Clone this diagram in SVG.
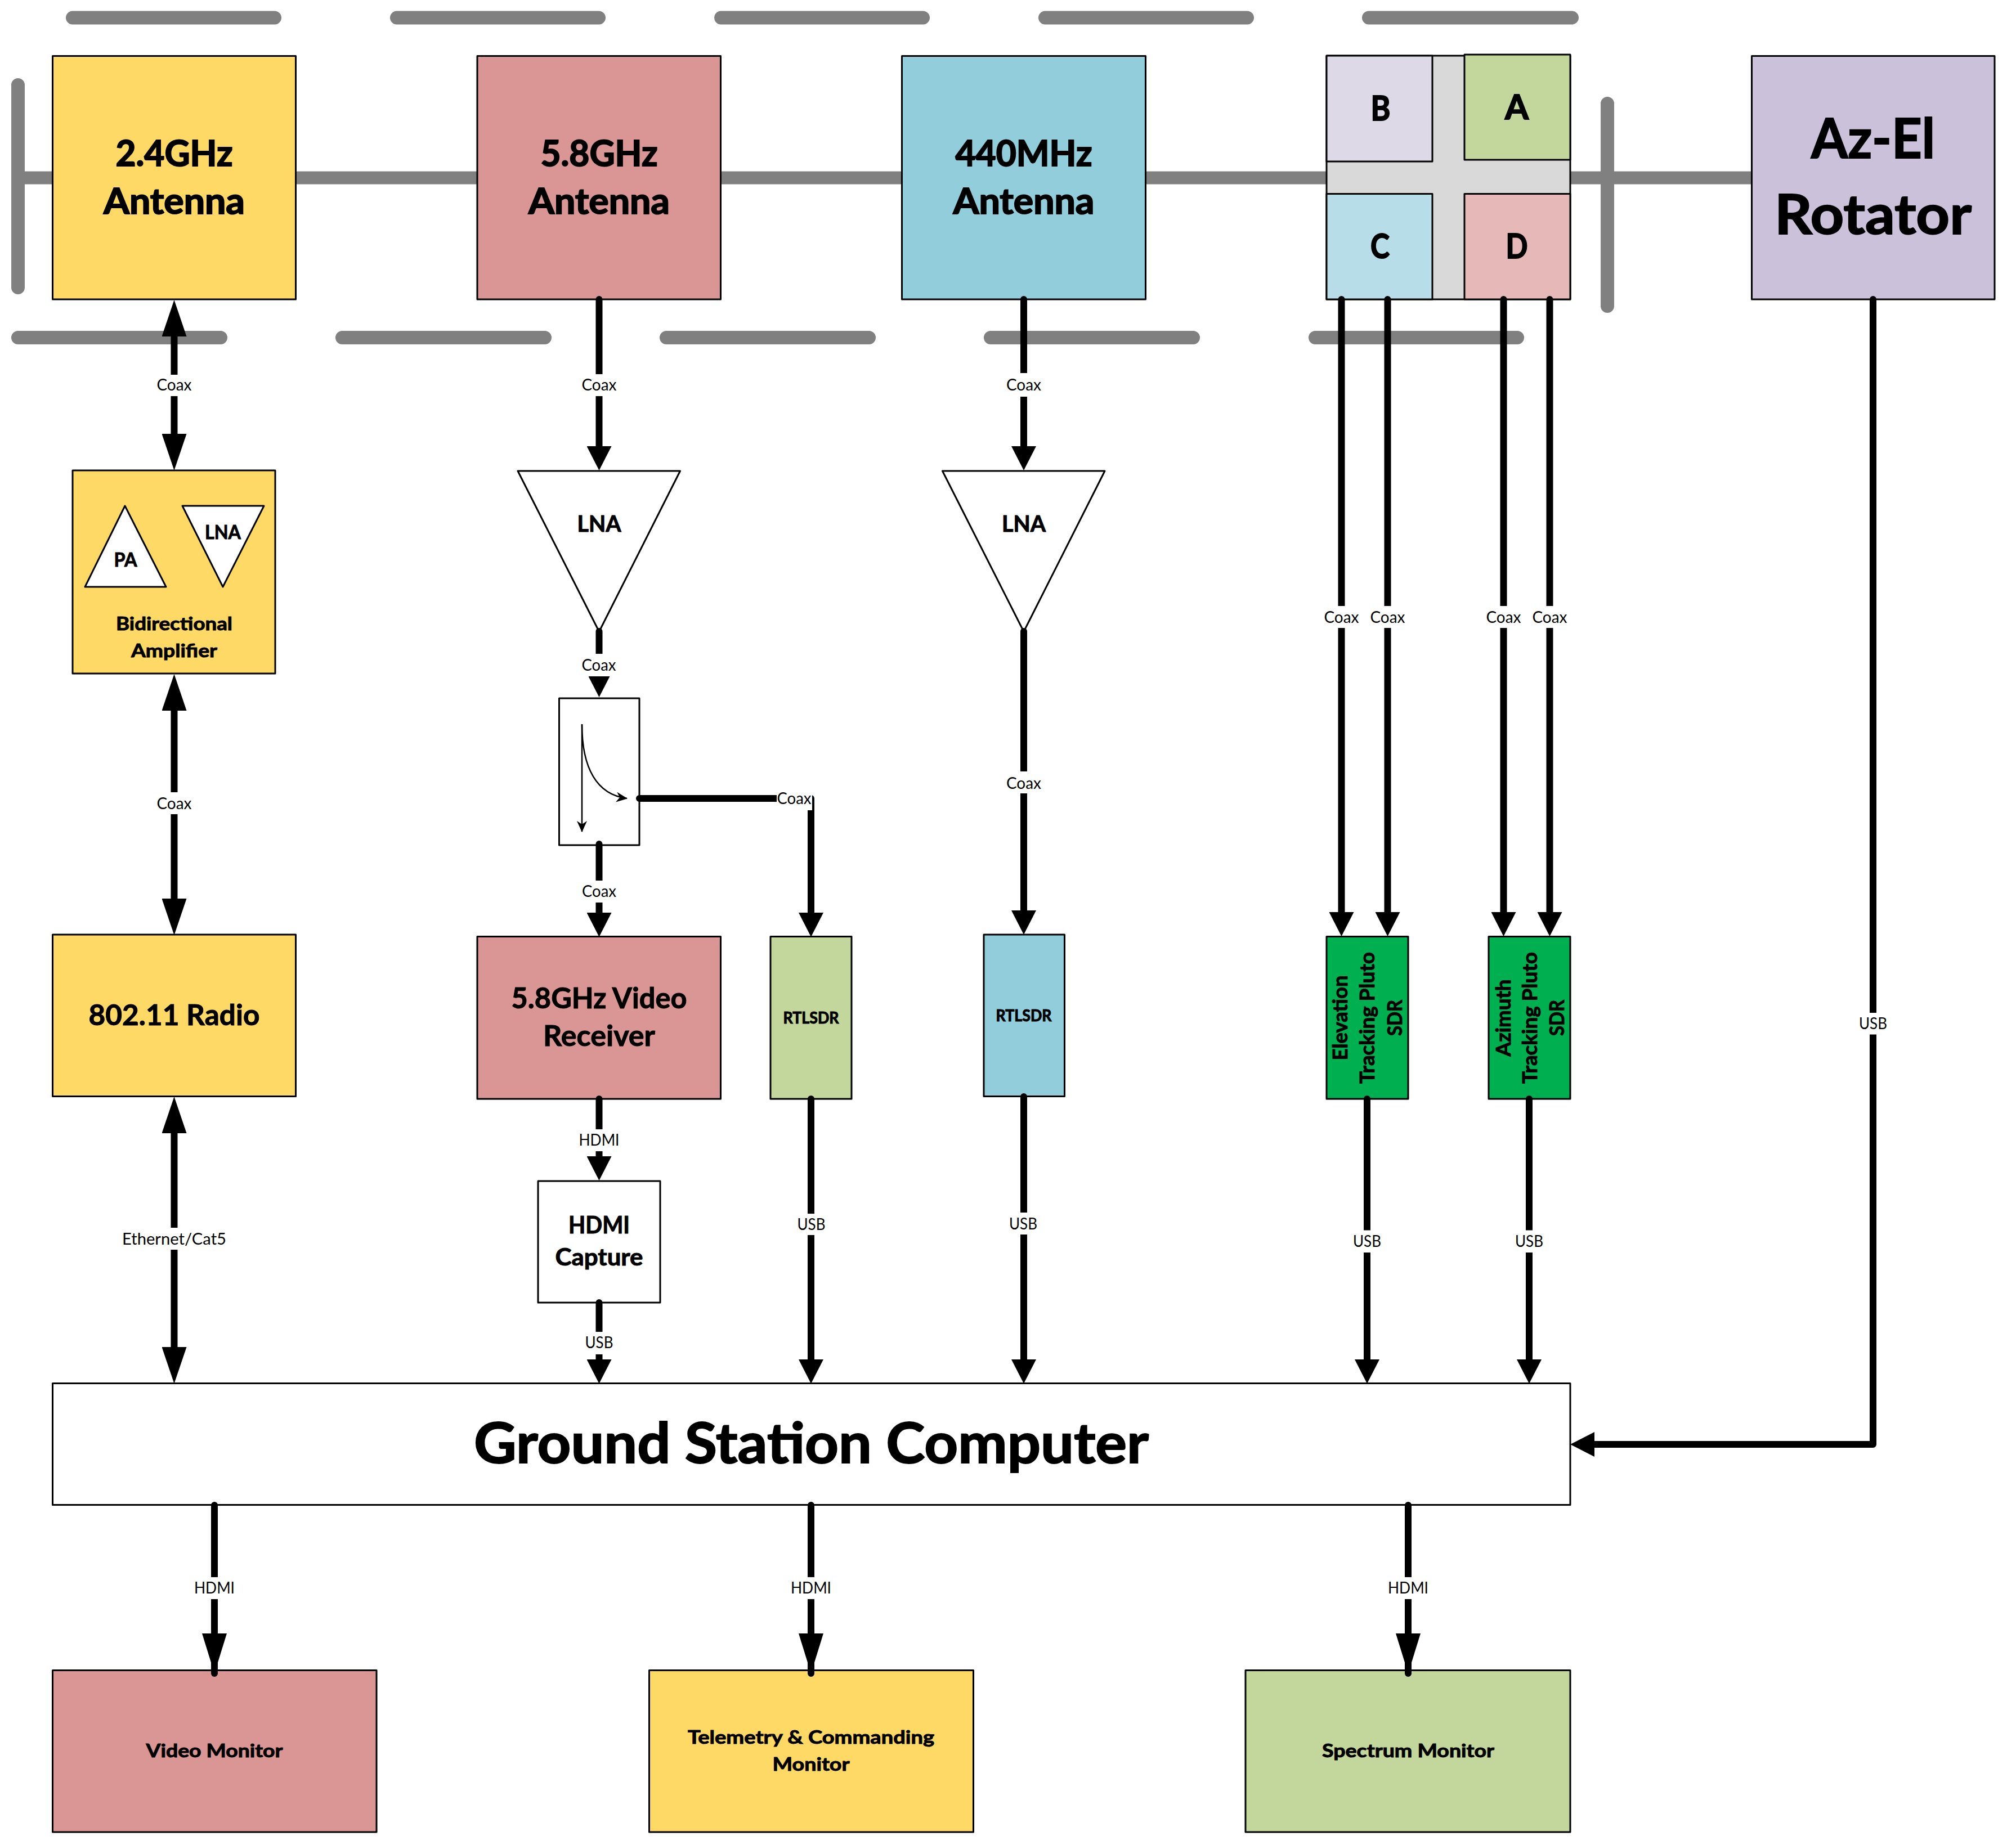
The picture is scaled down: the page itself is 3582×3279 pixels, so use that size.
<svg xmlns="http://www.w3.org/2000/svg" width="3582" height="3279" viewBox="0 0 3582 3279">
<style>
text{font-family:Lato,"Liberation Sans",sans-serif;fill:#000;text-anchor:middle}
.b{font-weight:700;stroke:#000;stroke-width:1}
.h{stroke-width:2}
.box{stroke:#000;stroke-width:3;stroke-linejoin:round}
.tri{fill:#fff;stroke:#000;stroke-width:3;stroke-linejoin:round}
.bar{fill:none;stroke:#808080;stroke-width:24;stroke-linecap:round}
.rail{fill:none;stroke:#808080;stroke-width:23}
.c{fill:none;stroke:#000;stroke-width:12;stroke-linecap:round;stroke-linejoin:round}
.a{marker-end:url(#arrow)}
.s{marker-end:url(#arrowSmall)}
.t{marker-end:url(#arrowThru)}
.d{marker-start:url(#arrowLong);marker-end:url(#arrowLong)}
.thin{fill:none;stroke:#000;stroke-width:2.5;marker-end:url(#stealth)}
.lb{fill:#fff;stroke:none}
.l{font-size:28px}
.yellow{fill:#FFD966}.rose{fill:#D99694}.blue{fill:#92CDDC}.lime{fill:#C3D69B}.purple{fill:#CCC1DA}.green{fill:#00B050}.white{fill:#fff}
</style>
<defs>
<marker id="arrow" markerUnits="userSpaceOnUse" markerWidth="44" markerHeight="44" viewBox="0 0 43 44" refX="0" refY="22" orient="auto"><path d="M0,0L43,22L0,44Z" fill="#000"/></marker>
<marker id="arrowSmall" markerUnits="userSpaceOnUse" markerWidth="37" markerHeight="38" viewBox="0 0 37 38" refX="0" refY="19" orient="auto"><path d="M0,0L37,19L0,38Z" fill="#000"/></marker>
<marker id="arrowLong" markerUnits="userSpaceOnUse" markerWidth="65" markerHeight="44" viewBox="0 0 65 44" refX="0" refY="22" orient="auto-start-reverse"><path d="M0,0L65,22L0,44Z" fill="#000"/></marker>
<marker id="arrowThru" markerUnits="userSpaceOnUse" markerWidth="71" markerHeight="44" viewBox="0 0 71 44" refX="71" refY="22" orient="auto"><path d="M0,0L71,22L0,44Z" fill="#000"/></marker>
<marker id="stealth" markerUnits="userSpaceOnUse" markerWidth="20" markerHeight="18" viewBox="0 0 20 18" refX="19" refY="9" orient="auto"><path d="M0,0L20,9L0,18L6,9Z" fill="#000"/></marker>
</defs>
<rect width="3582" height="3279" fill="#fff"/>
<g id="reflector-grid">
<path class="rail" d="M32,316H3112"/>
<path class="bar" d="M32,151V511M2856,184V544"/>
<path class="bar" d="M129,31.5H488M705,31.5H1064M1281,31.5H1640M1857,31.5H2216M2432,31.5H2793"/>
<path class="bar" d="M32,600H392M608,600H968M1184,600H1544M1760,600H2120M2337,600H2696"/>
</g>
<g id="antenna-24">
<rect class="box yellow" x="93.500" y="99.500" width="432" height="432.500"/>
<text class="b h" x="309.5" y="294.5" font-size="64" textLength="208" lengthAdjust="spacingAndGlyphs">2.4GHz</text>
<text class="b h" x="309.5" y="380" font-size="64" textLength="251" lengthAdjust="spacingAndGlyphs">Antenna</text>
</g>
<g id="antenna-58">
<rect class="box rose" x="848" y="99.500" width="432.500" height="432.500"/>
<text class="b h" x="1064.5" y="294.5" font-size="64" textLength="208" lengthAdjust="spacingAndGlyphs">5.8GHz</text>
<text class="b h" x="1064.5" y="380" font-size="64" textLength="251" lengthAdjust="spacingAndGlyphs">Antenna</text>
</g>
<g id="antenna-440">
<rect class="box blue" x="1602.500" y="99.500" width="433" height="432.500"/>
<text class="b h" x="1819" y="294.5" font-size="64" textLength="243" lengthAdjust="spacingAndGlyphs">440MHz</text>
<text class="b h" x="1819" y="380" font-size="64" textLength="251" lengthAdjust="spacingAndGlyphs">Antenna</text>
</g>
<g id="tracking-array">
<rect class="box" fill="#D9D9D9" x="2357" y="99" width="433" height="433"/>
<rect class="box" fill="#DDD9E6" x="2357" y="99" width="188" height="188"/>
<rect class="box lime" x="2602" y="97" width="188" height="187"/>
<rect class="box" fill="#B7DEE8" x="2357" y="344.5" width="188" height="187.5"/>
<rect class="box" fill="#E6B9B8" x="2602" y="344.5" width="188" height="187.5"/>
<text class="b h" x="2453" y="213.5" font-size="62" textLength="35" lengthAdjust="spacingAndGlyphs">B</text>
<text class="b h" x="2695" y="212" font-size="62" textLength="42" lengthAdjust="spacingAndGlyphs">A</text>
<text class="b h" x="2452" y="459" font-size="62" textLength="34" lengthAdjust="spacingAndGlyphs">C</text>
<text class="b h" x="2695" y="459" font-size="62" textLength="39" lengthAdjust="spacingAndGlyphs">D</text>
</g>
<g id="az-el-rotator">
<rect class="box purple" x="3112.500" y="99.500" width="431.500" height="432.500"/>
<text class="b h" x="3328" y="281" font-size="97" textLength="220" lengthAdjust="spacingAndGlyphs">Az-El</text>
<text class="b h" x="3328" y="416" font-size="97" textLength="350" lengthAdjust="spacingAndGlyphs">Rotator</text>
</g>
<g id="bidirectional-amplifier">
<rect class="box yellow" x="129" y="836" width="360" height="361"/>
<path class="tri" d="M222,899L295,1043H151Z"/>
<path class="tri" d="M324,899H469L396,1043Z"/>
<text class="b" x="223" y="1007" font-size="35" textLength="41" lengthAdjust="spacingAndGlyphs">PA</text>
<text class="b" x="396" y="958" font-size="35" textLength="64" lengthAdjust="spacingAndGlyphs">LNA</text>
<text class="b" x="309.5" y="1120" font-size="33" textLength="207" lengthAdjust="spacingAndGlyphs">Bidirectional</text>
<text class="b" x="309.5" y="1168" font-size="33" textLength="153" lengthAdjust="spacingAndGlyphs">Amplifier</text>
</g>
<g id="lna-58">
<path class="tri" d="M920,837H1208.500L1064.5,1122.500Z"/>
<text class="b" x="1064.5" y="945" font-size="40" textLength="78" lengthAdjust="spacingAndGlyphs">LNA</text>
</g>
<g id="lna-440">
<path class="tri" d="M1674.500,837H1963L1819,1122.500Z"/>
<text class="b" x="1819" y="945" font-size="40" textLength="78" lengthAdjust="spacingAndGlyphs">LNA</text>
</g>
<g id="directional-coupler">
<rect class="box white" x="993.500" y="1241" width="142.500" height="261"/>
<path class="thin" d="M1034,1287V1478"/>
<path class="thin" d="M1034,1287C1034,1365 1060,1412 1114,1419"/>
</g>
<g id="radio-80211">
<rect class="box yellow" x="93.500" y="1661" width="432" height="287.500"/>
<text class="b" x="309.5" y="1822" font-size="51" textLength="304" lengthAdjust="spacingAndGlyphs">802.11 Radio</text>
</g>
<g id="video-receiver">
<rect class="box rose" x="848" y="1664.5" width="432.500" height="288.500"/>
<text class="b" x="1064.5" y="1792" font-size="51" textLength="312" lengthAdjust="spacingAndGlyphs">5.8GHz Video</text>
<text class="b" x="1064.5" y="1859" font-size="51" textLength="199" lengthAdjust="spacingAndGlyphs">Receiver</text>
</g>
<g id="rtlsdr-58">
<rect class="box lime" x="1369" y="1664.5" width="144" height="288.500"/>
<text class="b" x="1441" y="1818.500" font-size="28" textLength="99" lengthAdjust="spacingAndGlyphs">RTLSDR</text>
</g>
<g id="rtlsdr-440">
<rect class="box blue" x="1748" y="1661" width="143.500" height="287.500"/>
<text class="b" x="1819" y="1814.500" font-size="28" textLength="99" lengthAdjust="spacingAndGlyphs">RTLSDR</text>
</g>
<g id="elevation-sdr">
<rect class="box green" x="2357" y="1664.500" width="145" height="288.500"/>
<text class="b" transform="translate(2394,1809) rotate(-90)" font-size="36" textLength="151" lengthAdjust="spacingAndGlyphs">Elevation</text>
<text class="b" transform="translate(2442,1809) rotate(-90)" font-size="36" textLength="234" lengthAdjust="spacingAndGlyphs">Tracking Pluto</text>
<text class="b" transform="translate(2491,1809) rotate(-90)" font-size="36" textLength="64" lengthAdjust="spacingAndGlyphs">SDR</text>
</g>
<g id="azimuth-sdr">
<rect class="box green" x="2645" y="1664.500" width="145" height="288.500"/>
<text class="b" transform="translate(2684,1809) rotate(-90)" font-size="36" textLength="137" lengthAdjust="spacingAndGlyphs">Azimuth</text>
<text class="b" transform="translate(2731,1809) rotate(-90)" font-size="36" textLength="234" lengthAdjust="spacingAndGlyphs">Tracking Pluto</text>
<text class="b" transform="translate(2779,1809) rotate(-90)" font-size="36" textLength="64" lengthAdjust="spacingAndGlyphs">SDR</text>
</g>
<g id="hdmi-capture">
<rect class="box white" x="956" y="2099" width="217" height="216"/>
<text class="b" x="1064.5" y="2192" font-size="42" textLength="109" lengthAdjust="spacingAndGlyphs">HDMI</text>
<text class="b" x="1064.5" y="2249" font-size="42" textLength="156" lengthAdjust="spacingAndGlyphs">Capture</text>
</g>
<g id="ground-station-computer">
<rect class="box white" x="93.500" y="2458.500" width="2696.500" height="216"/>
<text class="b h" x="1441.5" y="2600" font-size="99" textLength="1199" lengthAdjust="spacingAndGlyphs">Ground Station Computer</text>
</g>
<g id="video-monitor">
<rect class="box rose" x="93.500" y="2968.500" width="575.500" height="287.500"/>
<text class="b" x="381" y="3123" font-size="33" textLength="243" lengthAdjust="spacingAndGlyphs">Video Monitor</text>
</g>
<g id="telemetry-monitor">
<rect class="box yellow" x="1153.500" y="2968.500" width="576" height="287.500"/>
<text class="b" x="1441" y="3099" font-size="33" textLength="438" lengthAdjust="spacingAndGlyphs">Telemetry &amp; Commanding</text>
<text class="b" x="1441" y="3147" font-size="33" textLength="137" lengthAdjust="spacingAndGlyphs">Monitor</text>
</g>
<g id="spectrum-monitor">
<rect class="box lime" x="2213" y="2968.500" width="577" height="287.500"/>
<text class="b" x="2502" y="3123" font-size="33" textLength="306" lengthAdjust="spacingAndGlyphs">Spectrum Monitor</text>
</g>
<g id="connectors">
<path class="c d" d="M309.5,598V771"/>
<rect class="lb" x="274" y="666" width="71" height="38"/><text class="l" x="309.5" y="694" textLength="62" lengthAdjust="spacingAndGlyphs">Coax</text>
<path class="c d" d="M309.5,1263V1597"/>
<rect class="lb" x="274" y="1408" width="71" height="39"/><text class="l" x="309.5" y="1438" textLength="62" lengthAdjust="spacingAndGlyphs">Coax</text>
<path class="c d" d="M309.5,2014V2394"/>
<rect class="lb" x="212" y="2182" width="195" height="39"/><text class="l" x="309.5" y="2212" textLength="185" lengthAdjust="spacingAndGlyphs">Ethernet/Cat5</text>
<path class="c a" d="M1064.5,532V793"/>
<rect class="lb" x="1029" y="665" width="71" height="39"/><text class="l" x="1064.5" y="694" textLength="62" lengthAdjust="spacingAndGlyphs">Coax</text>
<path class="c s" d="M1064.5,1122V1202"/>
<rect class="lb" x="1029" y="1162" width="71" height="40"/><text class="l" x="1064" y="1192" textLength="61" lengthAdjust="spacingAndGlyphs">Coax</text>
<path class="c a" d="M1064.5,1500V1622"/>
<rect class="lb" x="1029" y="1565" width="71" height="39"/><text class="l" x="1064.500" y="1594" textLength="61" lengthAdjust="spacingAndGlyphs">Coax</text>
<path class="c a" d="M1136,1419H1441V1622"/>
<rect class="lb" x="1380" y="1400" width="63" height="40"/><text class="l" x="1411" y="1429" textLength="61" lengthAdjust="spacingAndGlyphs">Coax</text>
<path class="c a" d="M1064.5,1953V2055"/>
<rect class="lb" x="1026" y="2007" width="77" height="39"/><text class="l" x="1064.500" y="2036" textLength="72" lengthAdjust="spacingAndGlyphs">HDMI</text>
<path class="c a" d="M1064.5,2315V2416"/>
<rect class="lb" x="1036" y="2367" width="57" height="40"/><text class="l" x="1064.500" y="2396" textLength="50" lengthAdjust="spacingAndGlyphs">USB</text>
<path class="c a" d="M1441,1953V2416"/>
<rect class="lb" x="1413" y="2157" width="57" height="38"/><text class="l" x="1441.500" y="2186" textLength="50" lengthAdjust="spacingAndGlyphs">USB</text>
<path class="c a" d="M1819,532V793"/>
<rect class="lb" x="1783" y="663" width="72" height="42"/><text class="l" x="1819" y="694" textLength="62" lengthAdjust="spacingAndGlyphs">Coax</text>
<path class="c a" d="M1819,1122V1618"/>
<rect class="lb" x="1783" y="1371" width="72" height="39"/><text class="l" x="1819" y="1402" textLength="62" lengthAdjust="spacingAndGlyphs">Coax</text>
<path class="c a" d="M1819,1949V2416"/>
<rect class="lb" x="1790" y="2155" width="57" height="39"/><text class="l" x="1818" y="2185" textLength="50" lengthAdjust="spacingAndGlyphs">USB</text>
<path class="c a" d="M2383.5,532V1621"/>
<rect class="lb" x="2348" y="1077" width="71" height="39"/><text class="l" x="2383.500" y="1107" textLength="62" lengthAdjust="spacingAndGlyphs">Coax</text>
<path class="c a" d="M2465.5,532V1621"/>
<rect class="lb" x="2430" y="1077" width="71" height="39"/><text class="l" x="2465.500" y="1107" textLength="62" lengthAdjust="spacingAndGlyphs">Coax</text>
<path class="c a" d="M2671.5,532V1621"/>
<rect class="lb" x="2636" y="1077" width="71" height="39"/><text class="l" x="2671.500" y="1107" textLength="62" lengthAdjust="spacingAndGlyphs">Coax</text>
<path class="c a" d="M2753.5,532V1621"/>
<rect class="lb" x="2718" y="1077" width="71" height="39"/><text class="l" x="2753.500" y="1107" textLength="62" lengthAdjust="spacingAndGlyphs">Coax</text>
<path class="c a" d="M2429,1953V2416"/>
<rect class="lb" x="2401" y="2186.500" width="57" height="39.500"/><text class="l" x="2429" y="2216" textLength="50" lengthAdjust="spacingAndGlyphs">USB</text>
<path class="c a" d="M2717,1953V2416"/>
<rect class="lb" x="2689" y="2186.500" width="57" height="39.500"/><text class="l" x="2717" y="2216" textLength="50" lengthAdjust="spacingAndGlyphs">USB</text>
<path class="c a" d="M3328,532V2567H2833"/>
<rect class="lb" x="3300" y="1800" width="57" height="38.500"/><text class="l" x="3328" y="1829" textLength="50" lengthAdjust="spacingAndGlyphs">USB</text>
<path class="c t" d="M381,2675V2974"/>
<rect class="lb" x="344" y="2803" width="77" height="39"/><text class="l" x="381" y="2832" textLength="72" lengthAdjust="spacingAndGlyphs">HDMI</text>
<path class="c t" d="M1441,2675V2974"/>
<rect class="lb" x="1404" y="2803" width="77" height="39"/><text class="l" x="1441" y="2832" textLength="72" lengthAdjust="spacingAndGlyphs">HDMI</text>
<path class="c t" d="M2502,2675V2974"/>
<rect class="lb" x="2465" y="2803" width="77" height="39"/><text class="l" x="2502" y="2832" textLength="72" lengthAdjust="spacingAndGlyphs">HDMI</text>
</g>
</svg>
